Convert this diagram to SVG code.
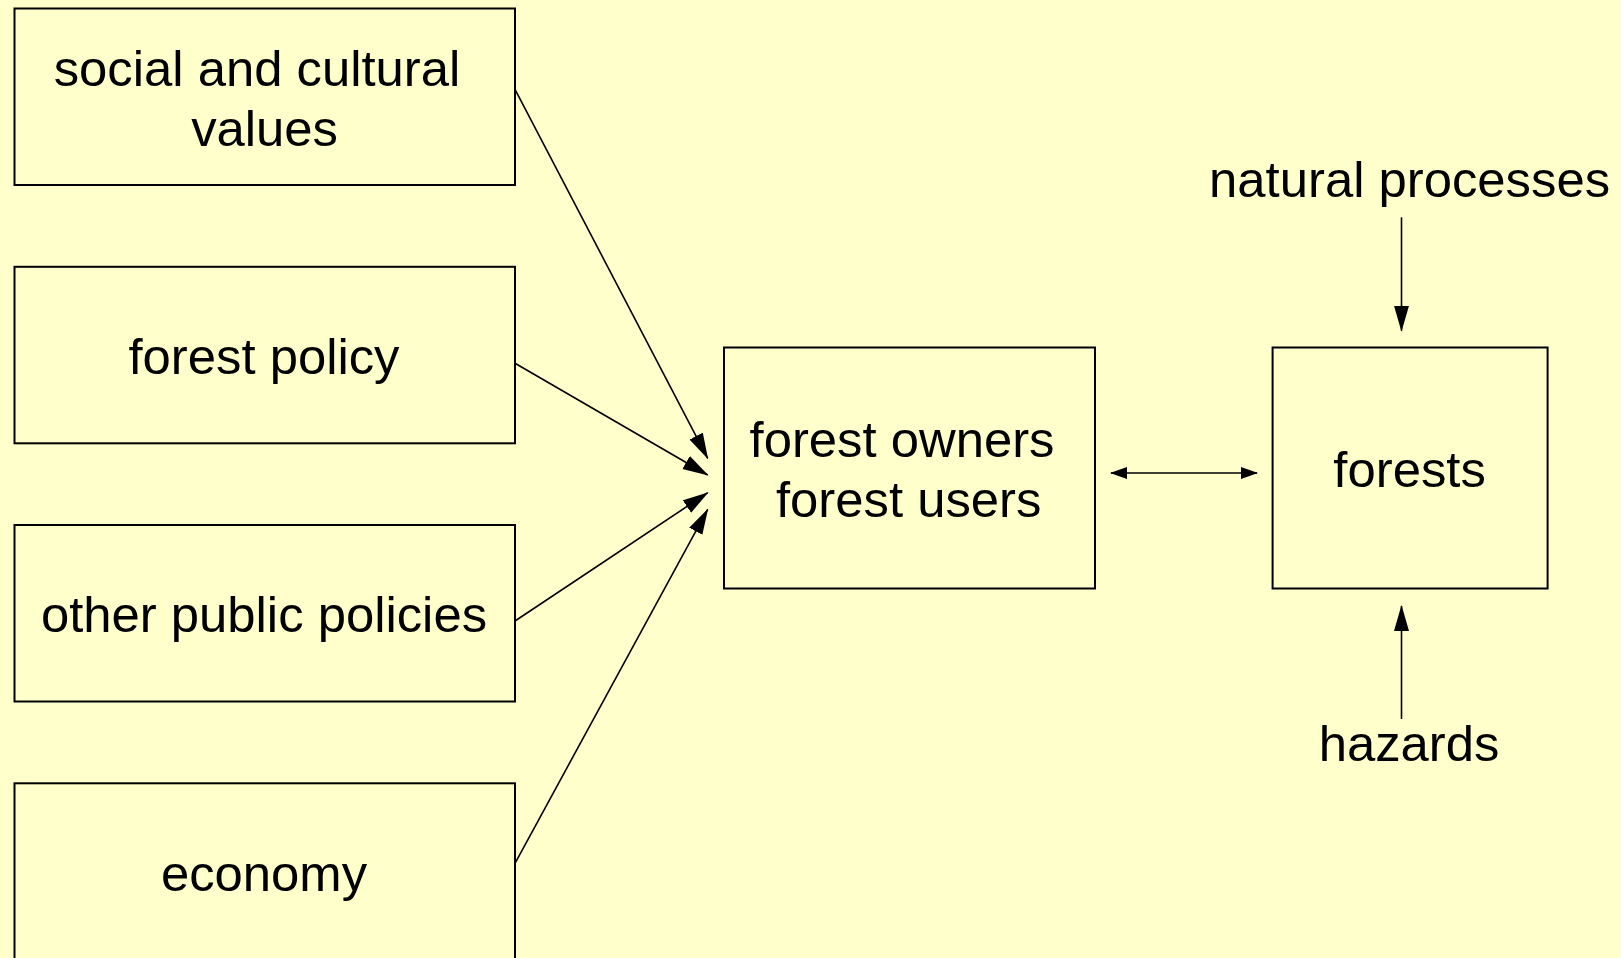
<svg xmlns="http://www.w3.org/2000/svg" width="1621" height="958" viewBox="0 0 1621 958">
<style>
.bg{fill:#FFFFCC}
.box{fill:#FFFFCC;stroke:#000;stroke-width:2}
.t{font-family:"Liberation Sans",Arial,sans-serif;font-size:50.8px;fill:#000;text-anchor:middle}
.c{stroke:#000;stroke-width:1.6;fill:none}
</style>
<defs>
<marker id="ah" markerUnits="userSpaceOnUse" markerWidth="26" markerHeight="16" refX="25" refY="7.5" orient="auto">
<path d="M0,0 L26,7.5 L0,15 z" fill="#000"/>
</marker>
<marker id="as" markerUnits="userSpaceOnUse" markerWidth="17" markerHeight="13" refX="16" refY="6" orient="auto-start-reverse">
<path d="M0,0 L17,6 L0,12 z" fill="#000"/>
</marker>
</defs>
<rect class="bg" x="0" y="0" width="1621" height="958"/>
<g id="n-social">
<rect class="box" x="14.5" y="8.5" width="500.5" height="176.5"/>
<text class="t" x="257" y="86">social and cultural</text>
<text class="t" x="264.6" y="146">values</text>
</g>
<g id="n-forestpolicy">
<rect class="box" x="14.5" y="266.8" width="500.5" height="176.5"/>
<text class="t" x="264" y="374">forest policy</text>
</g>
<g id="n-otherpolicies">
<rect class="box" x="14.5" y="525" width="500.5" height="176.5"/>
<text class="t" x="264" y="632">other public policies</text>
</g>
<g id="n-economy">
<rect class="box" x="14.5" y="783.3" width="500.5" height="178"/>
<text class="t" x="264" y="891">economy</text>
</g>
<g id="n-owners">
<rect class="box" x="724" y="347.5" width="371" height="241"/>
<text class="t" x="902" y="457">forest owners</text>
<text class="t" x="908.7" y="517">forest users</text>
</g>
<g id="n-forests">
<rect class="box" x="1272.6" y="347.5" width="275" height="241"/>
<text class="t" x="1409.6" y="487">forests</text>
</g>
<g id="n-natural">
<text class="t" x="1409.6" y="196.5">natural processes</text>
</g>
<g id="n-hazards">
<text class="t" x="1409" y="761">hazards</text>
</g>
<g id="connectors">
<line class="c" x1="515" y1="89.3" x2="707.7" y2="458.3" marker-end="url(#ah)"/>
<line class="c" x1="515" y1="363.3" x2="707.7" y2="475" marker-end="url(#ah)"/>
<line class="c" x1="515" y1="621" x2="707.7" y2="492.7" marker-end="url(#ah)"/>
<line class="c" x1="515" y1="863.3" x2="707.7" y2="509.3" marker-end="url(#ah)"/>
<line class="c" x1="1111" y1="473" x2="1257" y2="473" marker-start="url(#as)" marker-end="url(#as)"/>
<line class="c" x1="1401.5" y1="217.3" x2="1401.5" y2="330.7" marker-end="url(#ah)"/>
<line class="c" x1="1401.5" y1="719" x2="1401.5" y2="606" marker-end="url(#ah)"/>
</g>
</svg>
